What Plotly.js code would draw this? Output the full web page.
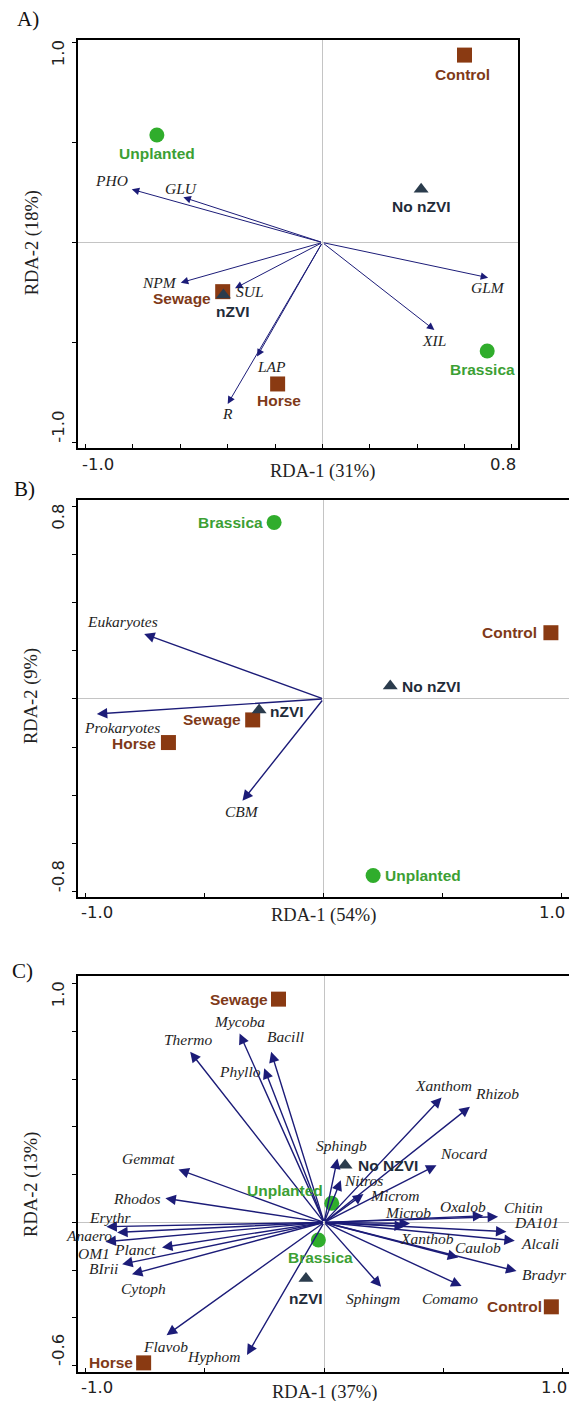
<!DOCTYPE html>
<html>
<head>
<meta charset="utf-8">
<script src="https://cdn.plot.ly/plotly-3.0.1.min.js"></script>
<style>html,body{margin:0;padding:0;background:#fff;}#chart{width:569px;height:1401px;}</style>
</head>
<body>
<div id="chart"></div>
<script>
// ---------------- DATA ----------------
// Panel A (RDA-1 31%, RDA-2 18%)
const A_amend = ["Control", "Sewage", "Horse"];
const A_amend_x = [0.600, -0.421, -0.189];
const A_amend_y = [0.938, -0.246, -0.708];
const A_plant = ["Unplanted", "Brassica"];
const A_plant_x = [-0.699, 0.696];
const A_plant_y = [0.538, -0.543];
const A_nzvi = ["No nZVI", "nZVI"];
const A_nzvi_x = [0.417, -0.418];
const A_nzvi_y = [0.266, -0.263];
const A_vars = ["PHO", "GLU", "NPM", "SUL", "LAP", "R", "GLM", "XIL"];
const A_vars_x = [-0.805, -0.587, -0.598, -0.369, -0.276, -0.400, 0.700, 0.473];
const A_vars_y = [0.266, 0.226, -0.201, -0.229, -0.571, -0.808, -0.176, -0.438];

// Panel B (RDA-1 54%, RDA-2 9%)
const B_amend = ["Control", "Sewage", "Horse"];
const B_amend_x = [0.956, -0.297, -0.651];
const B_amend_y = [0.275, -0.087, -0.181];
const B_plant = ["Brassica", "Unplanted"];
const B_plant_x = [-0.207, 0.209];
const B_plant_y = [0.733, -0.733];
const B_nzvi = ["No nZVI", "nZVI"];
const B_nzvi_x = [0.281, -0.270];
const B_nzvi_y = [0.054, -0.046];
const B_vars = ["Eukaryotes", "Prokaryotes", "CBM"];
const B_vars_x = [-0.753, -0.952, -0.340];
const B_vars_y = [0.270, -0.062, -0.423];

// Panel C (RDA-1 37%, RDA-2 13%)
const C_amend = ["Sewage", "Control", "Horse"];
const C_amend_x = [-0.191, 0.952, -0.756];
const C_amend_y = [0.936, -0.354, -0.589];
const C_plant = ["Unplanted", "Brassica"];
const C_plant_x = [0.032, -0.024];
const C_plant_y = [0.080, -0.074];
const C_nzvi = ["No NZVI", "nZVI"];
const C_nzvi_x = [0.088, -0.076];
const C_nzvi_y = [0.240, -0.235];
const C_vars = ["Thermo", "Mycoba", "Bacill", "Phyllo", "Xanthom", "Rhizob", "Sphingb", "Nitros",
  "Nocard", "Microm", "Microb", "Oxalob", "Chitin", "DA101", "Alcali", "Xanthob", "Caulob", "Bradyr",
  "Comamo", "Sphingm", "Hyphom", "Flavob", "Gemmat", "Rhodos", "Erythr", "Anaero", "OM1", "Planct",
  "BIrii", "Cytoph"];
const C_vars_x = [-0.561, -0.354, -0.222, -0.251, 0.492, 0.611, 0.056, 0.070,
  0.471, 0.165, 0.360, 0.667, 0.729, 0.764, 0.799, 0.339, 0.562, 0.806,
  0.576, 0.239, -0.323, -0.660, -0.610, -0.665, -0.912, -0.867, -0.916, -0.679,
  -0.846, -0.805];
const C_vars_y = [0.715, 0.792, 0.715, 0.646, 0.524, 0.485, 0.268, 0.177,
  0.240, 0.119, -0.005, 0.028, 0.024, -0.039, -0.077, -0.016, -0.147, -0.204,
  -0.267, -0.270, -0.556, -0.473, 0.222, 0.101, -0.018, -0.042, -0.081, -0.105,
  -0.175, -0.217];

// ---------------- LABEL PLACEMENT (pixel offsets: right, down) ----------------
const A_vars_off = [[-20,-9],[-2,-9],[-21,0],[15,3],[14.5,10],[0,9.5],[0,9.6],[0,10]];
const A_amend_off = [[-2,19],[-41,6.6],[1,16.7]];
const A_plant_off = [[0,18.3],[-5,18.3]];
const A_nzvi_off = [[0,17.3],[10,16.7]];
const B_vars_off = [[-21.3,-12.3],[25,13.3],[0,10.7]];
const B_amend_off = [[-41,0],[-41,0],[-34.3,1.3]];
const B_plant_off = [[-43.6,0],[49.8,0]];
const B_nzvi_off = [[41.7,0.7],[27.7,1.7]];
const C_vars_off = [[-2,-12.7],[0,-11.7],[14,-15],[-24,2.7],[1.7,-12.3],[26.7,-13.3],[4.4,-13.3],[22.6,0],
  [26.6,-11.7],[31.7,1],[-1.7,-11],[-20,-9],[25,-9],[30,-9.3],[25,2.6],[21.7,12.3],[20,-10],[27.6,3],
  [-11.6,12.3],[-8,11.7],[-32.7,1.7],[-1,11.7],[-30,-11],[-28.7,0],[4,-9.3],[-28.3,2.7],[-11.7,11.7],[-26.7,2],
  [-18.3,4.3],[11.7,14.3]];
const C_amend_off = [[-40,0],[-36.7,0],[-33,0]];
const C_plant_off = [[-46.8,-13.3],[2.5,17.3]];
const C_nzvi_off = [[43.3,0],[0,20]];

// ---------------- STYLE ----------------
const W = 569, H = 1401;
const BROWN = '#8a3a12', BROWN_T = '#7f3a19';
const GREEN = '#30ad2c', GREEN_T = '#3c9f34';
const DARK = '#2b3c4d', DARK_T = '#1f2c3a';
const ARROW = '#1c1c78';
const SANS = 'Liberation Sans, Arial, sans-serif';
const SERIF = 'Liberation Serif, Times New Roman, serif';
const TICKF = 'DejaVu Sans, sans-serif';

const traces = [];
const annotations = [];

function addSamples(ax, names, xs, ys, symbol, color, tcolor, size, offs) {
  traces.push({
    type: 'scatter', mode: 'markers', x: xs, y: ys, xaxis: 'x' + ax, yaxis: 'y' + ax,
    marker: {symbol: symbol, color: color, size: size, line: {width: 0}},
    hoverinfo: 'skip', showlegend: false, cliponaxis: false
  });
  names.forEach((n, i) => {
    annotations.push({
      xref: 'x' + ax, yref: 'y' + ax, x: xs[i], y: ys[i], text: '<b>' + n + '</b>',
      showarrow: false, xshift: offs[i][0], yshift: -offs[i][1],
      font: {family: SANS, size: 15.5, color: tcolor}
    });
  });
}

function addArrows(ax, names, xs, ys, offs, width, asize, fsize) {
  names.forEach((n, i) => {
    annotations.push({
      xref: 'x' + ax, yref: 'y' + ax, axref: 'x' + ax, ayref: 'y' + ax,
      x: xs[i], y: ys[i], ax: 0, ay: 0, text: '', showarrow: true,
      arrowhead: 2, arrowsize: asize, arrowwidth: width, arrowcolor: ARROW, standoff: 0
    });
  });
  names.forEach((n, i) => {
    annotations.push({
      xref: 'x' + ax, yref: 'y' + ax, x: xs[i], y: ys[i], text: '<i>' + n + '</i>',
      showarrow: false, xshift: offs[i][0], yshift: -offs[i][1],
      font: {family: SERIF, size: fsize, color: '#1e1e1e'}
    });
  });
}

function addAxisText(ax, xmin, xmax, ymin, ymax, xtitle, ytitle, ytitlePos, xtitleShift) {
  const tf = {family: TICKF, size: 16.5, color: '#222'};
  annotations.push({xref: 'x' + ax, yref: 'y' + ax + ' domain', x: xmin, y: 0, text: xmin.toFixed(1),
    showarrow: false, xanchor: 'left', yanchor: 'middle', xshift: -6, yshift: -16, font: tf});
  annotations.push({xref: 'x' + ax, yref: 'y' + ax + ' domain', x: xmax, y: 0, text: xmax.toFixed(1),
    showarrow: false, xanchor: 'right', yanchor: 'middle', xshift: 6, yshift: -16, font: tf});
  annotations.push({xref: 'x' + ax + ' domain', yref: 'y' + ax, x: 0, y: ymax, text: ymax.toFixed(1),
    showarrow: false, textangle: -90, xanchor: 'center', yanchor: 'top', xshift: -19.5, yshift: 4, font: tf});
  annotations.push({xref: 'x' + ax + ' domain', yref: 'y' + ax, x: 0, y: ymin, text: ymin.toFixed(1),
    showarrow: false, textangle: -90, xanchor: 'center', yanchor: 'bottom', xshift: -19.5, yshift: -3, font: tf});
  const ttf = {family: SERIF, size: 18.5, color: '#222'};
  annotations.push({xref: 'x' + ax, yref: 'y' + ax + ' domain', x: 0, y: 0, text: xtitle,
    showarrow: false, xanchor: 'center', yanchor: 'middle', yshift: xtitleShift, font: ttf});
  annotations.push({xref: 'x' + ax + ' domain', yref: 'y' + ax + ' domain', x: 0, y: ytitlePos, text: ytitle,
    showarrow: false, textangle: -90, xanchor: 'center', yanchor: 'middle', xshift: -46, font: ttf});
}

// Panel A
addArrows('', A_vars, A_vars_x, A_vars_y, A_vars_off, 1, 1.5, 15.5);
addSamples('', A_amend, A_amend_x, A_amend_y, 'square', BROWN, BROWN_T, 15, A_amend_off);
addSamples('', A_plant, A_plant_x, A_plant_y, 'circle', GREEN, GREEN_T, 15, A_plant_off);
addSamples('', A_nzvi, A_nzvi_x, A_nzvi_y, 'triangle-up', DARK, DARK_T, 13, A_nzvi_off);
addAxisText('', -1.0, 0.8, -1.0, 1.0, 'RDA-1 (31%)', 'RDA-2 (18%)', 0.502, -23);

// Panel B
addArrows('2', B_vars, B_vars_x, B_vars_y, B_vars_off, 1.4, 1.5, 15.5);
addSamples('2', B_amend, B_amend_x, B_amend_y, 'square', BROWN, BROWN_T, 15, B_amend_off);
addSamples('2', B_plant, B_plant_x, B_plant_y, 'circle', GREEN, GREEN_T, 15, B_plant_off);
addSamples('2', B_nzvi, B_nzvi_x, B_nzvi_y, 'triangle-up', DARK, DARK_T, 13, B_nzvi_off);
addAxisText('2', -1.0, 1.0, -0.8, 0.8, 'RDA-1 (54%)', 'RDA-2 (9%)', 0.506, -19);

// Panel C
addArrows('3', C_vars, C_vars_x, C_vars_y, C_vars_off, 1.4, 1.5, 15.5);
addSamples('3', C_amend, C_amend_x, C_amend_y, 'square', BROWN, BROWN_T, 15, C_amend_off);
addSamples('3', C_plant, C_plant_x, C_plant_y, 'circle', GREEN, GREEN_T, 15, C_plant_off);
addSamples('3', C_nzvi, C_nzvi_x, C_nzvi_y, 'triangle-up', DARK, DARK_T, 13, C_nzvi_off);
addAxisText('3', -1.0, 1.0, -0.6, 1.0, 'RDA-1 (37%)', 'RDA-2 (13%)', 0.472, -21);

// Panel letters
[['A)', 27.5, 19], ['B)', 24.5, 489], ['C)', 22, 971]].forEach(p => {
  annotations.push({xref: 'paper', yref: 'paper', x: p[1] / W, y: 1 - p[2] / H, text: p[0],
    showarrow: false, xanchor: 'center', yanchor: 'middle', font: {family: SERIF, size: 21, color: '#111'}});
});

function range(a, b, s) { const r = []; for (let v = a; v <= b + 1e-9; v += s) r.push(+v.toFixed(2)); return r; }

function xax(dom, rng, tv, anchor) {
  return {domain: dom, range: rng, anchor: anchor, tickvals: tv, showticklabels: false,
    ticks: 'inside', ticklen: 4, tickwidth: 1, tickcolor: '#000',
    showline: true, linecolor: '#000', linewidth: 2, mirror: true,
    showgrid: false, zeroline: true, zerolinecolor: '#c4c4c4', zerolinewidth: 1, fixedrange: true};
}
function yax(dom, rng, tv, anchor) {
  return {domain: dom, range: rng, anchor: anchor, tickvals: tv, showticklabels: false,
    ticks: 'outside', ticklen: 4, tickwidth: 1, tickcolor: '#000',
    showline: true, linecolor: '#000', linewidth: 2, mirror: true,
    showgrid: false, zeroline: true, zerolinecolor: '#c4c4c4', zerolinewidth: 1, fixedrange: true};
}

const layout = {
  width: W, height: H, margin: {l: 0, r: 0, t: 0, b: 0},
  paper_bgcolor: '#fff', plot_bgcolor: '#fff', showlegend: false,
  xaxis: xax([78 / W, 518 / W], [-1.032, 0.826], range(-1, 0.8, 0.2), 'y'),
  yaxis: yax([1 - 448.3 / H, 1 - 40 / H], [-1.030, 1.0135], range(-1, 1, 0.5), 'x'),
  xaxis2: xax([78 / W, 1], [-1.031, 1.032], range(-1, 1, 0.5), 'y2'),
  yaxis2: yax([1 - 896.7 / H, 1 - 500 / H], [-0.821, 0.826], range(-0.8, 0.8, 0.2), 'x2'),
  xaxis3: xax([78 / W, 1], [-1.031, 1.026], range(-1, 1, 0.5), 'y3'),
  yaxis3: yax([1 - 1371.7 / H, 1 - 976 / H], [-0.626, 1.033], range(-0.6, 1.0, 0.2), 'x3'),
  annotations: annotations
};

Plotly.newPlot('chart', traces, layout, {staticPlot: true, displayModeBar: false});
</script>
</body>
</html>
